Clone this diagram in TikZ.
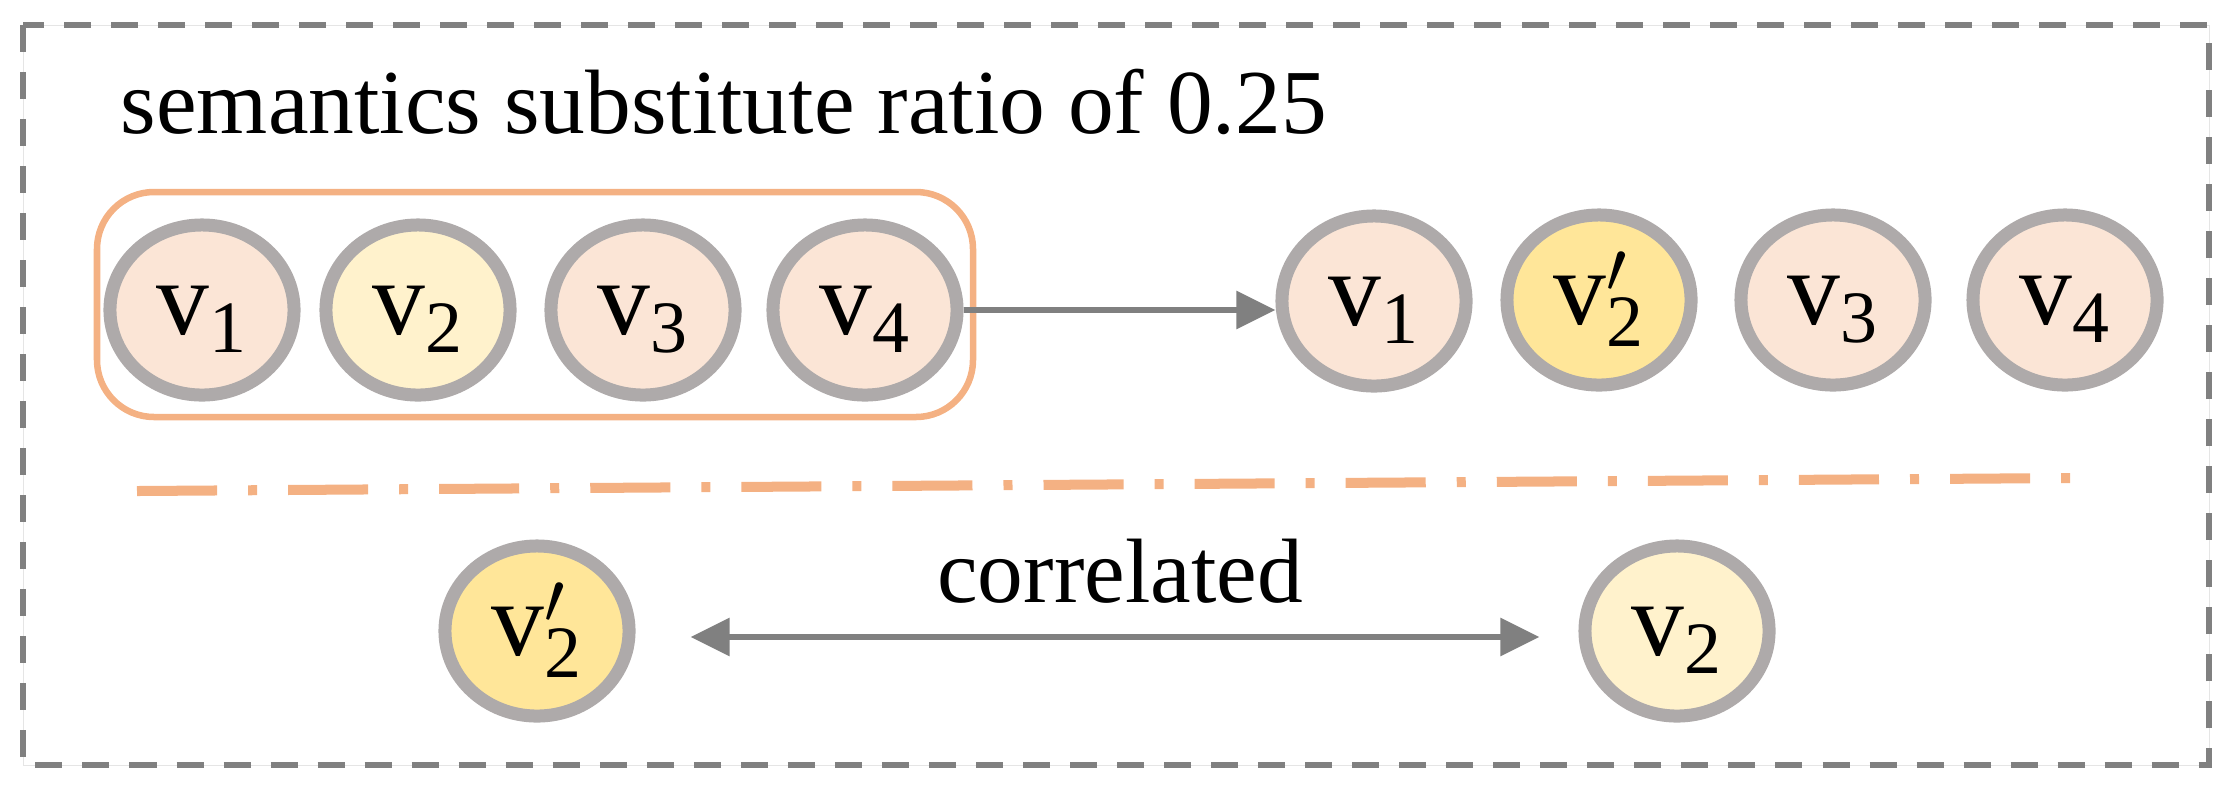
\documentclass[tikz,border=0pt]{standalone}
\usepackage{fontspec}
\setmainfont{Liberation Serif}
\usetikzlibrary{arrows.meta}
\usetikzlibrary{shapes.geometric}

\definecolor{boxgray}{HTML}{808080}
\definecolor{ringgray}{HTML}{AEAAAA}
\definecolor{peach}{HTML}{FBE5D6}
\definecolor{cream}{HTML}{FFF2CC}
\definecolor{gold}{HTML}{FFE699}
\definecolor{apricot}{HTML}{F4B183}

\begin{document}
\begin{tikzpicture}[x=0.01cm, y=-0.01cm,
        >={Triangle[length=0.39cm, width=0.37cm]},
        token/.style={ellipse, draw=ringgray, line width=0.13cm, minimum width=1.84cm, minimum height=1.70cm,
            inner sep=0pt, text height=0.48cm, text depth=0pt, font=\fontsize{30}{36}\selectfont},
        words/.style={inner sep=0pt, font=\fontsize{26}{31}\selectfont},
        link/.style={draw=boxgray, line width=0.06cm}]
                \useasboundingbox (0, 0) rectangle (2237, 790);

                \draw[gray!20, line width=0.01cm] (23, 25) rectangle (2209, 765);
                \draw[boxgray, line width=0.06cm, dash pattern=on 0.27cm off 0.2cm] (23, 25) rectangle (2209, 765);

                \node[words, anchor=base west] (title) at (120, 133) {semantics substitute ratio of 0.25};

                \draw[apricot, line width=0.065cm, rounded corners=0.57cm] (97, 192) rectangle (973, 417);

                \node[token, fill=peach] (o1) at (202, 310) {$\mathrm{v}_{\mathrm{1}}$};
                \node[token, fill=cream] (o2) at (418, 310) {$\mathrm{v}_{\mathrm{2}}$};
                \node[token, fill=peach] (o3) at (643, 310) {$\mathrm{v}_{\mathrm{3}}$};
                \node[token, fill=peach] (o4) at (865, 310) {$\mathrm{v}_{\mathrm{4}}$};

                \node[token, fill=peach] (s1) at (1374, 301) {$\mathrm{v}_{\mathrm{1}}$};
                \node[token, fill=gold] (s2) at (1599, 300) {$\mathrm{v}'_{\mathrm{2}}$};
                \node[token, fill=peach] (s3) at (1833, 300) {$\mathrm{v}_{\mathrm{3}}$};
                \node[token, fill=peach] (s4) at (2065, 300) {$\mathrm{v}_{\mathrm{4}}$};

                \draw[link, ->] (o4.east) -- (o4.east -| s1.west);

                \draw[apricot, line width=0.1cm, dash pattern=on 0.8cm off 0.31cm on 0.09cm off 0.31cm] (137, 491) -- (2072, 478);

                \node[token, fill=gold] (p2) at (537, 631) {$\mathrm{v}'_{\mathrm{2}}$};
                \node[token, fill=cream] (q2) at (1677, 631) {$\mathrm{v}_{\mathrm{2}}$};
                \node[words, anchor=base] (corr) at (1120, 602) {correlated};

                \draw[link, <->, shorten <=0.55cm, shorten >=0.39cm, transform canvas={yshift=-0.06cm}] (p2.east) -- (q2.west);
            \end{tikzpicture}
\end{document}
